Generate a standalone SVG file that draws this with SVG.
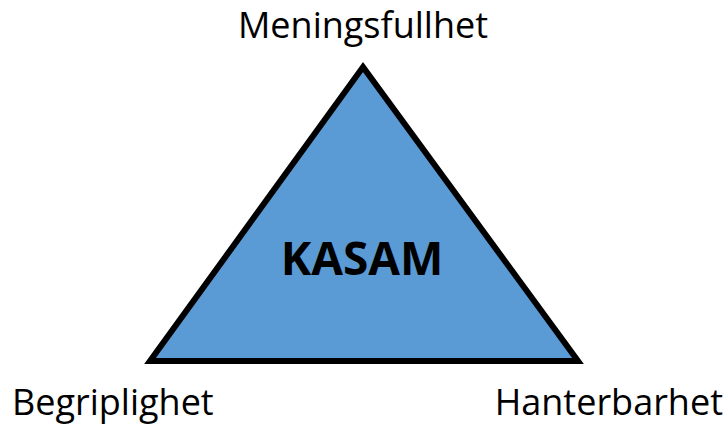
<svg xmlns="http://www.w3.org/2000/svg" width="727" height="425" viewBox="0 0 727 425">
<style>
.lbl{font-family:"Open Sans","Liberation Sans",sans-serif;font-size:36px;fill:#000}
.title{font-family:"Open Sans","Liberation Sans",sans-serif;font-size:46px;font-weight:bold;fill:#000}
</style>
<rect width="727" height="425" fill="#fff"/>
<g id="triangle">
<polygon points="363,67 578,361 150,361" fill="#5B9BD5" stroke="#000" stroke-width="6" stroke-linejoin="miter" stroke-miterlimit="10"/>
<text class="title" x="362" y="275" text-anchor="middle">KASAM</text>
</g>
<g id="meningsfullhet"><text class="lbl" x="363" y="38" text-anchor="middle">Meningsfullhet</text></g>
<g id="begriplighet"><text class="lbl" x="12" y="415">Begriplighet</text></g>
<g id="hanterbarhet"><text class="lbl" x="723" y="415" text-anchor="end">Hanterbarhet</text></g>
</svg>
